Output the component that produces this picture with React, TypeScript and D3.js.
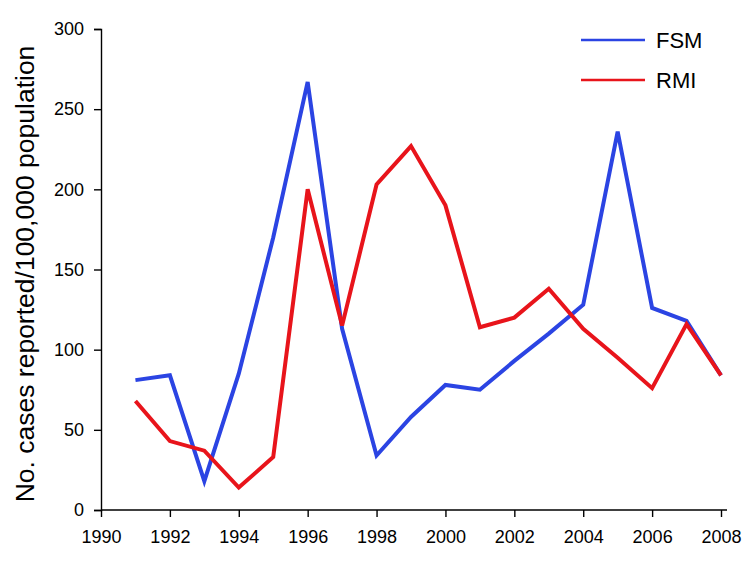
import React, { useEffect, useRef } from "react";
import * as d3 from "d3";

const years = [1991, 1992, 1993, 1994, 1995, 1996, 1997, 1998, 1999, 2000, 2001, 2002, 2003, 2004, 2005, 2006, 2007, 2008];
const fsm = [81, 84, 18, 85, 170, 267, 113, 34, 58, 78, 75, 93, 110, 128, 236, 126, 118, 84];
const rmi = [68, 43, 37, 14, 33, 200, 115, 203, 227, 190, 114, 120, 138, 113, 95, 76, 116, 84];
const xTicks = [1990, 1992, 1994, 1996, 1998, 2000, 2002, 2004, 2006, 2008];
const yTicks = [0, 50, 100, 150, 200, 250, 300];
const seriesNames = ["FSM", "RMI"];
const seriesColors = ["#2b44e3", "#e8141b"];

export default function App() {
  const ref = useRef<SVGSVGElement>(null);
  useEffect(() => {
    const svg = d3.select(ref.current);
    svg.selectAll("*").remove();
    const W = 750, H = 561;
    const left = 101, right = 721, top = 29, bottom = 510;
    const x = d3.scaleLinear().domain([1990, 2008]).range([left, right]);
    const y = d3.scaleLinear().domain([0, 300]).range([bottom, top]);
    svg.append("rect").attr("width", W).attr("height", H).attr("fill", "#fff");

    const font = "'Liberation Sans', Arial, sans-serif";
    const xAxis = svg.append("g").attr("transform", `translate(0,${bottom})`)
      .call(d3.axisBottom(x).tickValues(xTicks).tickFormat(d3.format("d")).tickSizeOuter(0).tickSize(7));
    xAxis.select(".domain").attr("stroke", "#000").attr("stroke-width", 1.4).attr("d", `M${left},0H${right + 6}`);
    xAxis.selectAll(".tick line").attr("stroke", "#000").attr("stroke-width", 1.4);
    xAxis.selectAll("text").attr("font-family", font).attr("font-size", 18).attr("fill", "#000").attr("y", 20).attr("dy", "0.71em");

    const yAxis = svg.append("g").attr("transform", `translate(${left},0)`)
      .call(d3.axisLeft(y).tickValues(yTicks).tickSizeOuter(0).tickSize(7));
    yAxis.select(".domain").attr("stroke", "#000").attr("stroke-width", 1.4);
    yAxis.selectAll(".tick line").attr("stroke", "#000").attr("stroke-width", 1.4);
    yAxis.selectAll("text").attr("font-family", font).attr("font-size", 18).attr("fill", "#000").attr("x", -17);

    svg.append("text")
      .attr("transform", `translate(34,274) rotate(-90)`)
      .attr("text-anchor", "middle")
      .attr("font-family", font).attr("font-size", 26.5).attr("fill", "#000")
      .text("No. cases reported/100,000 population");

    const line = d3.line<number>().x((_, i) => x(years[i])).y(d => y(d));
    [fsm, rmi].forEach((s, k) => {
      svg.append("path").attr("d", line(s)).attr("fill", "none")
        .attr("stroke", seriesColors[k]).attr("stroke-width", 4).attr("stroke-linejoin", "miter");
    });

    seriesNames.forEach((n, k) => {
      const ly = 40 + k * 40;
      svg.append("line").attr("x1", 581).attr("x2", 645).attr("y1", ly).attr("y2", ly)
        .attr("stroke", seriesColors[k]).attr("stroke-width", 2.6);
      svg.append("text").attr("x", 656).attr("y", ly).attr("dy", "0.36em").attr("font-family", font).attr("font-size", 22).attr("fill", "#000").text(n);
    });
  }, []);
  return <svg ref={ref} width={750} height={561} style={{ position: "absolute", left: 0, top: 0 }} />;
}
